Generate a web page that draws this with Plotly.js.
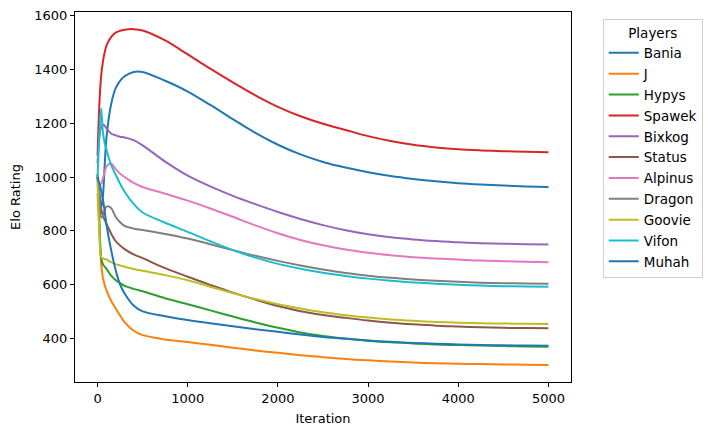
<!DOCTYPE html>
<html>
<head>
<meta charset="utf-8">
<script src="https://cdn.plot.ly/plotly-3.0.1.min.js"></script>
<style>html,body{margin:0;padding:0;background:#fff;}#chart{width:716px;height:435px;}</style>
</head>
<body>
<div id="chart"></div>
<script>
const iterations = [0, 20, 40, 60, 80, 100, 150, 200, 250, 300, 400, 500, 750, 1000, 1250, 1500, 1750, 2000, 2250, 2500, 2750, 3000, 3250, 3500, 3750, 4000, 4250, 4500, 4750, 5000];

const players = ["Bania", "J", "Hypys", "Spawek", "Bixkog", "Status", "Alpinus", "Dragon", "Goovie", "Vifon", "Muhah"];

const bania   = [1000, 930, 885, 930, 1050, 1150, 1270, 1330, 1358, 1375, 1391, 1391, 1358, 1318, 1268, 1215, 1164, 1120, 1084, 1056, 1035, 1018, 1004, 993, 984, 977, 972, 968, 965, 963];
const j       = [940, 800, 680, 625, 598, 577, 540, 512, 485, 460, 428, 412, 396, 386, 376, 365, 355, 346, 337, 330, 323, 318, 314, 310, 307, 305, 304, 303, 302, 301];
const hypys   = [1010, 850, 700, 675, 666, 658, 633, 617, 605, 595, 584, 575, 549, 527, 504, 481, 459, 439, 422, 409, 399, 391, 385, 381, 377, 375, 373, 371, 370, 369];
const spawek  = [1080, 1270, 1375, 1430, 1465, 1490, 1520, 1537, 1544, 1548, 1550, 1545, 1508, 1456, 1403, 1352, 1304, 1261, 1226, 1198, 1175, 1152, 1134, 1120, 1110, 1103, 1099, 1096, 1094, 1092];
const bixkog  = [1050, 1150, 1185, 1195, 1190, 1180, 1162, 1155, 1150, 1147, 1137, 1118, 1057, 1005, 965, 930, 899, 870, 844, 821, 802, 787, 776, 768, 762, 757, 754, 752, 750, 749];
const status  = [970, 940, 880, 855, 840, 825, 790, 762, 745, 732, 712, 698, 661, 629, 599, 570, 544, 520, 501, 487, 476, 466, 458, 452, 447, 444, 441, 439, 438, 437];
const alpinus = [1000, 975, 975, 995, 1020, 1040, 1050, 1030, 1012, 1000, 978, 963, 938, 912, 883, 852, 820, 791, 766, 746, 730, 718, 709, 702, 697, 693, 689, 687, 685, 683];
const dragon  = [1010, 920, 850, 855, 878, 890, 885, 852, 832, 818, 808, 803, 788, 771, 750, 728, 707, 688, 671, 656, 643, 633, 625, 619, 614, 610, 607, 605, 604, 603];
const goovie  = [990, 800, 703, 697, 695, 693, 683, 676, 671, 666, 658, 651, 635, 616, 592, 568, 546, 527, 511, 497, 486, 477, 470, 465, 461, 458, 456, 455, 454, 453];
const vifon   = [1000, 1150, 1255, 1165, 1125, 1100, 1045, 1010, 975, 945, 900, 868, 830, 796, 761, 728, 700, 677, 659, 644, 632, 622, 614, 608, 603, 599, 596, 594, 593, 592];
const muhah   = [1000, 975, 950, 915, 870, 820, 730, 655, 600, 567, 522, 500, 482, 468, 456, 445, 434, 424, 414, 405, 398, 392, 387, 383, 380, 377, 375, 374, 373, 372];

const series = [bania, j, hypys, spawek, bixkog, status, alpinus, dragon, goovie, vifon, muhah];
const colors = ["#1f77b4", "#ff7f0e", "#2ca02c", "#d62728", "#9467bd", "#8c564b", "#e377c2", "#7f7f7f", "#bcbd22", "#17becf", "#1f77b4"];

const traces = players.map((name, i) => ({
  x: iterations,
  y: series[i],
  name: name,
  legendgroup: "g" + i,
  type: "scatter",
  mode: "lines",
  line: {color: colors[i], width: 2, shape: "spline", smoothing: 0.9}
}));

const font = {family: "DejaVu Sans, sans-serif", size: 13, color: "#000"};
const legFont = {family: "DejaVu Sans, sans-serif", size: 13.5, color: "#000"};

const layout = {
  width: 716,
  height: 435,
  margin: {l: 75, r: 145, t: 12, b: 53},
  paper_bgcolor: "#fff",
  plot_bgcolor: "#fff",
  font: font,
  showlegend: true,
  legend: {
    x: 1.064, y: 0.981, xanchor: "left", yanchor: "top",
    bordercolor: "#d0d0d0", borderwidth: 1,
    font: legFont,
    title: {text: "Players", side: "top center", font: legFont},
    tracegroupgap: 0.3
  },
  xaxis: {
    range: [-250, 5250],
    tickvals: [0, 1000, 2000, 3000, 4000, 5000],
    ticks: "outside", ticklen: 4, tickcolor: "#000", tickwidth: 1,
    showline: true, linecolor: "#000", linewidth: 1, mirror: true,
    showgrid: false, zeroline: false,
    tickfont: font,
    title: {text: "Iteration", font: font, standoff: 9}
  },
  yaxis: {
    range: [237.5, 1613.8],
    tickvals: [400, 600, 800, 1000, 1200, 1400, 1600],
    ticks: "outside", ticklen: 4, tickcolor: "#000", tickwidth: 1,
    showline: true, linecolor: "#000", linewidth: 1, mirror: true,
    showgrid: false, zeroline: false,
    tickfont: font,
    title: {text: "Elo Rating", font: font, standoff: 10}
  }
};

Plotly.newPlot("chart", traces, layout, {displayModeBar: false, staticPlot: true});
</script>
</body>
</html>
